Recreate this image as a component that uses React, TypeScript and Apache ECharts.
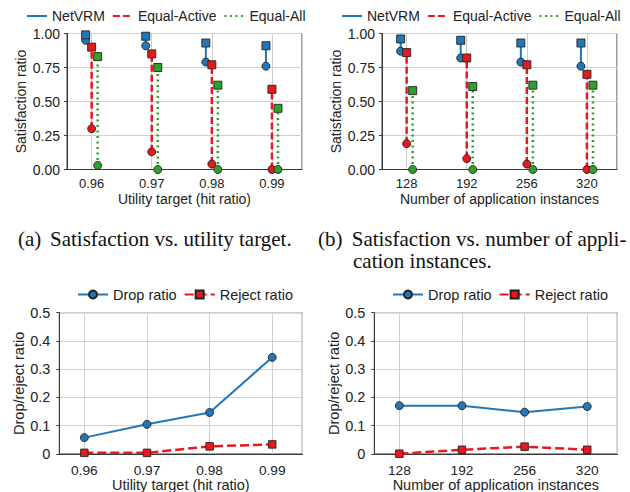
import React, { useEffect, useRef } from "react";
import * as echarts from "echarts";

const utilityTargets = ["0.96", "0.97", "0.98", "0.99"];
const instanceCounts = ["128", "192", "256", "320"];

// (a) Satisfaction vs. utility target: top (square) and bottom (circle) values
const netvrmTopA = [0.99, 0.98, 0.93, 0.91];
const netvrmBotA = [0.95, 0.91, 0.79, 0.76];
const eqActiveTopA = [0.9, 0.85, 0.77, 0.59];
const eqActiveBotA = [0.3, 0.13, 0.04, 0.0];
const eqAllTopA = [0.83, 0.75, 0.62, 0.45];
const eqAllBotA = [0.03, 0.0, 0.0, 0.0];

// (b) Satisfaction vs. number of application instances
const netvrmTopB = [0.96, 0.95, 0.93, 0.93];
const netvrmBotB = [0.87, 0.82, 0.79, 0.76];
const eqActiveTopB = [0.86, 0.82, 0.77, 0.7];
const eqActiveBotB = [0.19, 0.08, 0.04, 0.0];
const eqAllTopB = [0.58, 0.61, 0.62, 0.62];
const eqAllBotB = [0.0, 0.0, 0.0, 0.0];

// (c)/(d) Drop / reject ratios
const dropC = [0.058, 0.105, 0.147, 0.342];
const rejectC = [0.004, 0.004, 0.027, 0.034];
const dropD = [0.171, 0.171, 0.148, 0.168];
const rejectD = [0.001, 0.015, 0.026, 0.015];

const satTicks = [0, 0.25, 0.5, 0.75, 1];
const ratioTicks = [0, 0.1, 0.2, 0.3, 0.4, 0.5];

const BLUE = "#2277b8";
const RED = "#e8191e";
const GREEN = "#2ea12c";
const FONT = "Liberation Sans";
const SERIF = "Liberation Serif";
const FRAME = "#3a3a3a";
const GRIDC = "#cfcfcf";

export default function App() {
  const ref = useRef<HTMLDivElement>(null);
  useEffect(() => {
    if (!ref.current) return;
    const chart = echarts.init(ref.current, undefined, { renderer: "svg" });

    const grids = [
      { left: 67, top: 33.5, width: 235, height: 136 },
      { left: 382, top: 33.5, width: 235, height: 136 },
      { left: 59.3, top: 312.7, width: 243, height: 141.3 },
      { left: 374.3, top: 312.7, width: 243, height: 141.3 },
    ].map((g) => ({
      ...g,
      show: true,
      borderColor: FRAME,
      borderWidth: 1,
      backgroundColor: "transparent",
      outerBoundsMode: "none",
      containLabel: false,
    }));

    const mkX = (idx: number, cats: string[], name: string, top: boolean) => ({
      type: "value",
      gridIndex: idx,
      min: top ? -0.41 : -0.4,
      max: top ? 3.5 : 3.48,
      splitNumber: 4,
      name,
      nameLocation: "middle",
      nameGap: top ? 22.5 : 23,
      nameTextStyle: { fontFamily: FONT, fontSize: top ? 14 : 14.5, color: "#222" },
      axisLine: { show: true, onZero: false, lineStyle: { color: FRAME, width: 1 } },
      axisTick: { show: false },
      axisLabel: {
        show: true,
        margin: top ? 7 : 9,
        fontFamily: FONT,
        fontSize: top ? 13 : 13.7,
        color: "#222",
        showMinLabel: false,
        showMaxLabel: false,
        formatter: (v: number) => (Number.isInteger(v) && cats[v] !== undefined ? cats[v] : ""),
      },
      splitLine: { show: true, lineStyle: { color: GRIDC, width: 1 } },
    });

    const mkY = (idx: number, top: boolean) => ({
      type: "value",
      gridIndex: idx,
      min: 0,
      max: top ? satTicks[satTicks.length - 1] : ratioTicks[ratioTicks.length - 1],
      interval: top ? satTicks[1] - satTicks[0] : ratioTicks[1] - ratioTicks[0],
      name: top ? "Satisfaction ratio" : "Drop/reject ratio",
      nameLocation: "middle",
      nameGap: top ? 39 : 33,
      nameTextStyle: { fontFamily: FONT, fontSize: top ? 14 : 14.5, color: "#222" },
      axisLine: { show: true, onZero: false, lineStyle: { color: FRAME, width: 1 } },
      axisTick: { show: true, length: 3, lineStyle: { color: FRAME } },
      axisLabel: {
        margin: top ? 7 : 9,
        fontFamily: FONT,
        fontSize: top ? 14 : 14.5,
        color: "#222",
        formatter: (v: number) => (top ? v.toFixed(2) : v === 0 ? "0" : v.toFixed(1)),
      },
      splitLine: { show: true, lineStyle: { color: GRIDC, width: 1 } },
    });

    const xAxis = [
      mkX(0, utilityTargets, "Utility target (hit ratio)", true),
      mkX(1, instanceCounts, "Number of application instances", true),
      mkX(2, utilityTargets, "Utility target (hit ratio)", false),
      mkX(3, instanceCounts, "Number of application instances", false),
    ];
    const yAxis = [mkY(0, true), mkY(1, true), mkY(2, false), mkY(3, false)];

    const methods = [
      { name: "NetVRM", color: BLUE, off: -0.1, width: 2, type: "solid" as any },
      { name: "Equal-Active", color: RED, off: 0, width: 2.5, type: [7, 3] as any },
      { name: "Equal-All", color: GREEN, off: 0.1, width: 2.5, type: [2, 3.5] as any },
    ];
    const panelData = [
      [
        [netvrmTopA, netvrmBotA],
        [eqActiveTopA, eqActiveBotA],
        [eqAllTopA, eqAllBotA],
      ],
      [
        [netvrmTopB, netvrmBotB],
        [eqActiveTopB, eqActiveBotB],
        [eqAllTopB, eqAllBotB],
      ],
    ];

    const series: any[] = [];
    panelData.forEach((panel, p) => {
      methods.forEach((m, mi) => {
        const [tops, bots] = panel[mi];
        tops.forEach((t, i) => {
          series.push({
            name: m.name,
            type: "line",
            xAxisIndex: p,
            yAxisIndex: p,
            symbol: "none",
            symbolSize: 8,
            showSymbol: true,
            clip: false,
            z: 2 + mi,
            lineStyle: { color: m.color, width: m.width, type: m.type },
            itemStyle: { color: m.color, borderColor: "#222", borderWidth: 0.9 },
            data: [
              { value: [i + m.off, bots[i]], symbol: "circle" },
              { value: [i + m.off, t], symbol: "rect" },
            ],
          });
        });
      });
    });

    const ratioPanels = [
      [dropC, rejectC],
      [dropD, rejectD],
    ];
    ratioPanels.forEach(([drop, rej], p) => {
      series.push({
        name: "Drop ratio",
        type: "line",
        xAxisIndex: 2 + p,
        yAxisIndex: 2 + p,
        symbol: "circle",
        symbolSize: 8,
        clip: false,
        z: 3,
        lineStyle: { color: BLUE, width: 2 },
        itemStyle: { color: BLUE, borderColor: "#222", borderWidth: 0.9 },
        data: drop.map((v, i) => [i, v]),
      });
      series.push({
        name: "Reject ratio",
        type: "line",
        xAxisIndex: 2 + p,
        yAxisIndex: 2 + p,
        symbol: "rect",
        symbolSize: 7.5,
        clip: false,
        z: 4,
        lineStyle: { color: RED, width: 2.5, type: [9, 4] },
        itemStyle: { color: RED, borderColor: "#222", borderWidth: 0.9 },
        data: rej.map((v, i) => [i, v]),
      });
    });

    const topLegend = (left: number) => ({
      left,
      top: 4,
      orient: "horizontal",
      itemWidth: 20,
      itemHeight: 14,
      itemGap: 7,
      selectedMode: false,
      data: ["NetVRM", "Equal-Active", "Equal-All"],
      itemStyle: { opacity: 0 },
      textStyle: { fontFamily: FONT, fontSize: 14, color: "#222" },
    });
    const botLegend = (left: number) => ({
      left,
      top: 282,
      orient: "horizontal",
      itemWidth: 30,
      itemHeight: 10,
      itemGap: 7,
      selectedMode: false,
      data: ["Drop ratio", "Reject ratio"],
      textStyle: { fontFamily: FONT, fontSize: 14.5, color: "#222" },
    });

    const captionStyle = (text: string, x: number, y: number) => ({
      type: "text",
      left: x,
      top: y,
      style: { text, fontFamily: SERIF, fontSize: 21, fill: "#111" },
    });

    chart.setOption({
      animation: false,
      backgroundColor: "#fff",
      grid: grids,
      xAxis,
      yAxis,
      legend: [topLegend(21), topLegend(336), botLegend(72), botLegend(387)],
      series,
      graphic: [
        captionStyle("(a)", 18, 228),
        captionStyle("Satisfaction vs. utility target.", 50, 228),
        captionStyle("(b)", 318, 228),
        captionStyle("Satisfaction vs. number of appli-", 351.7, 228),
        captionStyle("cation instances.", 353, 250),
      ],
    });
    return () => chart.dispose();
  }, []);
  return (
    <div
      ref={ref}
      style={{ position: "fixed", left: 0, top: 0, width: 630, height: 492 }}
    />
  );
}
